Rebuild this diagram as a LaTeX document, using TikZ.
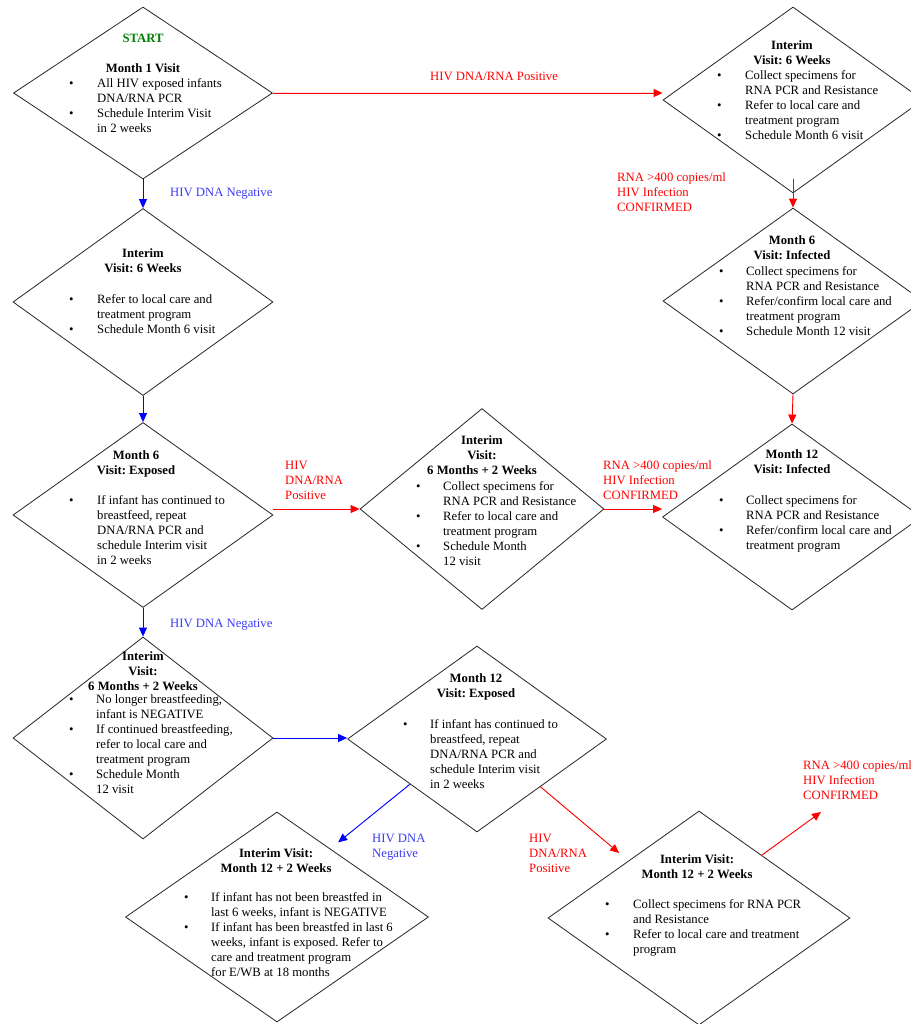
\documentclass[tikz,border=0pt]{standalone}
\usepackage{fontspec}
\setmainfont{Liberation Serif}
\usetikzlibrary{shapes.geometric,arrows.meta}
\definecolor{lred}{RGB}{255,0,0}
\definecolor{lblue}{RGB}{60,60,245}
\definecolor{sgreen}{RGB}{0,128,0}
\newcommand\fsz{\fontsize{12.7}{15}\selectfont\frenchspacing}
\newcommand\hblock[1]{\begin{tabular}[t]{@{}c@{}}#1\end{tabular}}
\newcommand\lblock[1]{\begin{tabular}[t]{@{}l@{}}#1\end{tabular}}
\newcommand\bblock[2]{\begin{tabular}[t]{@{}p{#1}@{}l@{}}#2\end{tabular}}
\begin{document}
\begin{tikzpicture}[x=1pt,y=-1pt,
  dia/.style={diamond,draw=black!85,line width=0.8pt,inner sep=0pt,aspect=1},
  hdr/.style={inner sep=0pt,anchor=base,font=\fsz\bfseries},
  lst/.style={inner sep=0pt,anchor=base west,font=\fsz},
  lab/.style={inner sep=0pt,anchor=base west,font=\fsz},
  tip/.style={-{Triangle[length=9pt,width=8pt]},line width=0.9pt},
  rarr/.style={tip,draw=lred,fill=lred},
  barr/.style={tip,draw=blue,fill=blue}]
\useasboundingbox (0,0) rectangle (910,1024);
\fill[white] (0,0) rectangle (910,1024);

% diamonds
\node[dia,minimum width=259pt,minimum height=172pt] (D1) at (143,93) {};
\node[dia,minimum width=260pt,minimum height=186pt] (D2) at (793,100) {};
\node[dia,minimum width=260pt,minimum height=187pt] (D3) at (143,302) {};
\node[dia,minimum width=260pt,minimum height=186pt] (D4) at (793,301) {};
\node[dia,minimum width=260pt,minimum height=185pt] (D5) at (143,515) {};
\node[dia,minimum width=244pt,minimum height=201pt] (D6) at (482,509) {};
\node[dia,minimum width=259pt,minimum height=186pt] (D7) at (792,517) {};
\node[dia,minimum width=260pt,minimum height=202pt] (D8) at (143,738) {};
\node[dia,minimum width=259pt,minimum height=186pt] (D9) at (477,739) {};
\node[dia,minimum width=303pt,minimum height=210pt] (D10) at (277,917) {};
\node[dia,minimum width=302pt,minimum height=214pt] (D11) at (699,918) {};

% D1
\node[hdr,text=sgreen] (S1) at (143,43) {START};
\node[hdr] (H1) at (143,73) {Month 1 Visit};
\node[lst] (B1) at (69,88) {\bblock{28pt}{\textbullet & All HIV exposed infants\\ & DNA/RNA PCR\\ \textbullet & Schedule Interim Visit\\ & in 2 weeks}};
% D2
\node[hdr] (H2) at (792,50) {\hblock{Interim\\Visit: 6 Weeks}};
\node[lst] (B2) at (717,80) {\bblock{28pt}{\textbullet & Collect specimens for\\ & RNA PCR and Resistance\\ \textbullet & Refer to local care and\\ & treatment program\\ \textbullet & Schedule Month 6 visit}};
% D3
\node[hdr] (H3) at (143,257) {\hblock{Interim\\Visit: 6 Weeks}};
\node[lst] (B3) at (69,303) {\bblock{28pt}{\textbullet & Refer to local care and\\ & treatment program\\ \textbullet & Schedule Month 6 visit}};
% D4
\node[hdr] (H4) at (792,244) {\hblock{Month 6\\Visit: Infected}};
\node[lst] (B4) at (719,275) {\bblock{27pt}{\textbullet & Collect specimens for\\ & RNA PCR and Resistance\\ \textbullet & Refer/confirm local care and\\ & treatment program\\ \textbullet & Schedule Month 12 visit}};
% D5
\node[hdr] (H5) at (136,459) {\hblock{Month 6\\Visit: Exposed}};
\node[lst] (B5) at (69,504) {\bblock{28pt}{\textbullet & If infant has continued to\\ & breastfeed, repeat\\ & DNA/RNA PCR and\\ & schedule Interim visit\\ & in 2 weeks}};
% D6
\node[hdr] (H6) at (482,444) {\hblock{Interim\\Visit:\\6 Months + 2 Weeks}};
\node[lst] (B6) at (416,490) {\bblock{27pt}{\textbullet & Collect specimens for\\ & RNA PCR and Resistance\\ \textbullet & Refer to local care and\\ & treatment program\\ \textbullet & Schedule Month\\ & 12 visit}};
% D7
\node[hdr] (H7) at (792,458) {\hblock{Month 12\\Visit: Infected}};
\node[lst] (B7) at (719,504) {\bblock{27pt}{\textbullet & Collect specimens for\\ & RNA PCR and Resistance\\ \textbullet & Refer/confirm local care and\\ & treatment program}};
% D8
\node[hdr] (H8) at (143,660) {\hblock{Interim\\Visit:\\6 Months + 2 Weeks}};
\node[lst] (B8) at (69,703) {\bblock{27pt}{\textbullet & No longer breastfeeding,\\ & infant is NEGATIVE\\ \textbullet & If continued breastfeeding,\\ & refer to local care and\\ & treatment program\\ \textbullet & Schedule Month\\ & 12 visit}};
% D9
\node[hdr] (H9) at (476,682) {\hblock{Month 12\\Visit: Exposed}};
\node[lst] (B9) at (403,728) {\bblock{27pt}{\textbullet & If infant has continued to\\ & breastfeed, repeat\\ & DNA/RNA PCR and\\ & schedule Interim visit\\ & in 2 weeks}};
% D10
\node[hdr] (H10) at (276,857) {\hblock{Interim Visit:\\Month 12 + 2 Weeks}};
\node[lst] (B10) at (184,901) {\bblock{27pt}{\textbullet & If infant has not been breastfed in\\ & last 6 weeks, infant is NEGATIVE\\ \textbullet & If infant has been breastfed in last 6\\ & weeks, infant is exposed. Refer to\\ & care and treatment program\\ & for E/WB at 18 months}};
% D11
\node[hdr] (H11) at (697,863) {\hblock{Interim Visit:\\Month 12 + 2 Weeks}};
\node[lst] (B11) at (605,908) {\bblock{28pt}{\textbullet & Collect specimens for RNA PCR\\ & and Resistance\\ \textbullet & Refer to local care and treatment\\ & program}};

% connectors
\draw[rarr] (D1.east) -- (D1.east -| D2.west);
\draw[barr] (D1.south) -- (D3.north);
\draw[rarr] ([yshift=14pt]D2.south) -- (D4.north);
\draw[barr] (D3.south) -- (D5.north);
\draw[rarr] (D4.south) -- (D7.north);
\draw[rarr] (D5.east |- D6.west) -- (D6.west);
\draw[rarr] (D6.east) -- (D6.east -| D7.west);
\draw[barr] (D5.south) -- (D8.north);
\draw[barr] (D8.east) -- (D8.east -| D9.west);
\draw[barr,shorten >=10pt] (D9.214) -- (D10.52);
\draw[rarr,shorten >=12pt] (D9.-37) -- (D11.141);
\coordinate (E) at (821,812);
\draw[rarr] (D11.45) -- (E);

% labels
\node[lab,text=lred] (L1) at (430,81) {HIV DNA/RNA Positive};
\node[lab,text=lblue] (L2) at (170,197) {HIV DNA Negative};
\node[lab,text=lred] (L3) at (617,182) {\lblock{RNA >400 copies/ml\\HIV Infection\\CONFIRMED}};
\node[lab,text=lred] (L4) at (285,469) {\lblock{HIV\\DNA/RNA\\Positive}};
\node[lab,text=lred] (L5) at (603,469) {\lblock{RNA >400 copies/ml\\HIV Infection\\CONFIRMED}};
\node[lab,text=lblue] (L6) at (170,627) {HIV DNA Negative};
\node[lab,text=lblue] (L7) at (372,842) {\lblock{HIV DNA\\Negative}};
\node[lab,text=lred] (L8) at (529,842) {\lblock{HIV\\DNA/RNA\\Positive}};
\node[lab,text=lred] (L9) at (803,769) {\lblock{RNA >400 copies/ml\\HIV Infection\\CONFIRMED}};
\end{tikzpicture}
\end{document}
